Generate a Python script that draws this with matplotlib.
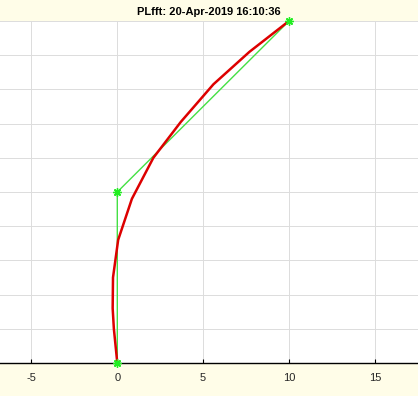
import matplotlib
matplotlib.use('Agg')
import matplotlib.pyplot as pl
import numpy as np

# green polyline with asterisk markers
green_x = [0, 0, 10]
green_y = [0, 5, 10]

# red curve
red_x = [0, -0.2, -0.27, -0.25, 0.05, 0.85, 2.1, 3.7, 5.6, 7.7, 10]
red_y = [0, 1.0, 1.6, 2.5, 3.6, 4.8, 6.0, 7.05, 8.15, 9.1, 10]

x_ticks = [-5, 0, 5, 10, 15]
y_ticks = list(range(0, 11))
title = 'PLfft: 20-Apr-2019 16:10:36'

bg = '#fffde8'
pl.rcParams['axes.unicode_minus'] = False
pl.rcParams['font.family'] = ['Liberation Sans', 'DejaVu Sans']

fig = pl.figure(figsize=(4.18, 3.96), dpi=100, facecolor=bg)
ax = fig.add_axes([0, 33 / 396, 1, 342 / 396])
ax.set_facecolor('white')

ax.plot(green_x, green_y, color='#44e044', lw=1.0, zorder=3)
ax.plot(red_x, red_y, color='#dd0000', lw=1.8, zorder=4)
ax.plot(green_x, green_y, ls='none', marker=(8, 2, 0), ms=6, mew=1.0,
        color='#22ee22', zorder=5, clip_on=False)

ax.set_xlim(-117.3 / 17.17, (418 - 117.3) / 17.17)
ax.set_ylim(0, 10)
ax.set_xticks(x_ticks)
ax.set_yticks(y_ticks)
ax.set_yticklabels([])
ax.grid(True, color='#dcdcdc', lw=0.7)
ax.set_axisbelow(True)

for side in ['top', 'left', 'right']:
    ax.spines[side].set_visible(False)
ax.spines['bottom'].set_color('black')
ax.spines['bottom'].set_linewidth(1.0)
ax.tick_params(axis='x', direction='in', length=3, labelsize=8,
               labelcolor='#262626', pad=7)
ax.tick_params(axis='y', length=0)

fig.text(0.5, 1 - 12 / 396, title, ha='center', va='center',
         fontsize=8, fontweight='bold', color='black')

fig.savefig('out.png', dpi=100, facecolor=bg)
